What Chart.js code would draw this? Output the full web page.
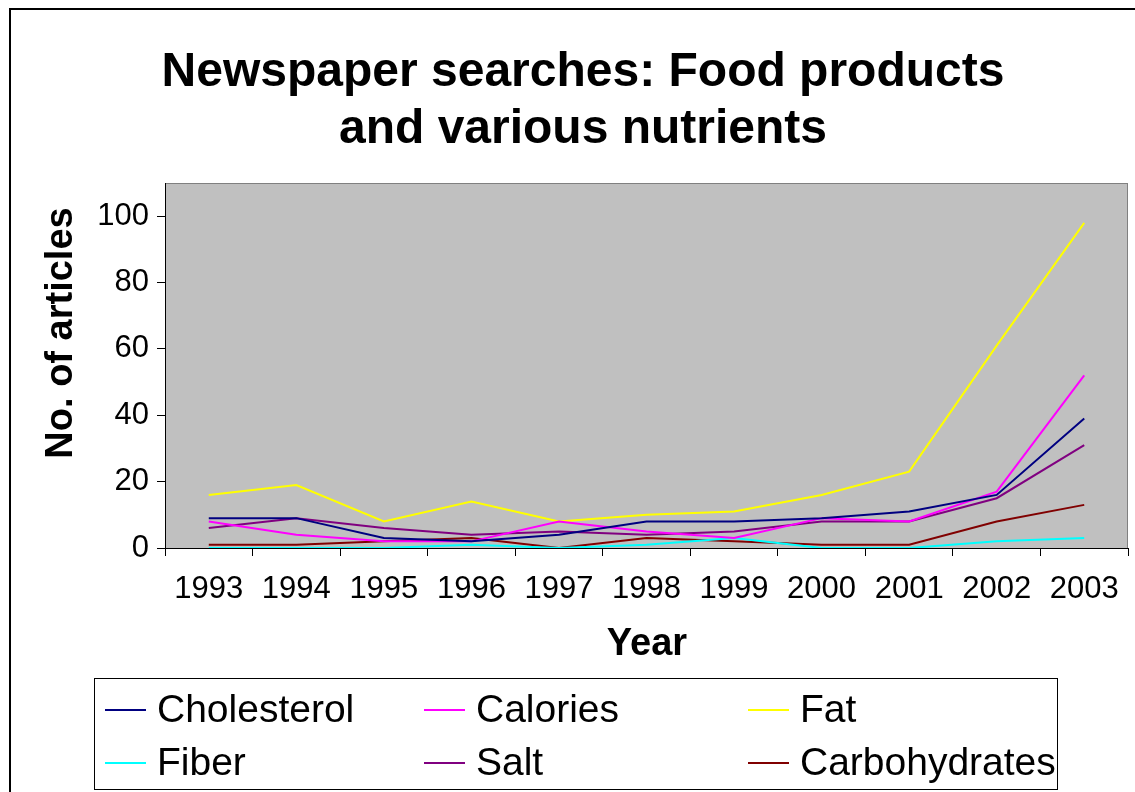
<!DOCTYPE html>
<html>
<head>
<meta charset="utf-8">
<script src="https://cdn.jsdelivr.net/npm/chart.js@4"></script>
<style>
  html, body { margin: 0; padding: 0; background: #fff; }
  canvas { display: block; }
</style>
</head>
<body>
<canvas id="foodChart" width="1135" height="792"></canvas>
<script>
// data
const years = ['1993', '1994', '1995', '1996', '1997', '1998', '1999', '2000', '2001', '2002', '2003'];
const cholesterol = [9, 9, 3, 2, 4, 8, 8, 9, 11, 16, 39];
const calories = [8, 4, 2, 2, 8, 5, 3, 9, 8, 17, 52];
const fat = [16, 19, 8, 14, 8, 10, 11, 16, 23, 61, 98];
const fiber = [0, 0, 0, 1, 0, 1, 3, 0, 0, 2, 3];
const salt = [6, 9, 6, 4, 5, 4, 5, 8, 8, 15, 31];
const carbohydrates = [1, 1, 2, 3, 0, 3, 2, 1, 1, 8, 13];
const yTicks = [0, 20, 40, 60, 80, 100];

const titleLines = ['Newspaper searches: Food products', 'and various nutrients'];
const FONT = '"Liberation Sans", Arial, sans-serif';

function series(label, data, color) {
    return {
        label: label,
        data: data,
        borderColor: color,
        backgroundColor: color,
        borderWidth: 2,
        pointRadius: 0,
        tension: 0,
        fill: false
    };
}

// frame, grey plot area, title, axis titles and legend
const decorations = {
    id: 'decorations',
    beforeDraw(chart) {
        const ctx = chart.ctx;
        const a = chart.chartArea;
        ctx.save();
        ctx.fillStyle = '#fff';
        ctx.fillRect(0, 0, chart.width, chart.height);
        ctx.strokeStyle = '#000';
        ctx.lineWidth = 2;
        ctx.strokeRect(10, 9, chart.width + 20, chart.height + 20);
        ctx.fillStyle = '#c0c0c0';
        ctx.fillRect(a.left, a.top, a.right - a.left, a.bottom - a.top);
        ctx.strokeStyle = '#808080';
        ctx.lineWidth = 1;
        ctx.strokeRect(a.left + 0.5, a.top + 0.5, a.right - a.left - 1, a.bottom - a.top);
        ctx.restore();
    },
    afterDraw(chart) {
        const ctx = chart.ctx;
        ctx.save();
        ctx.fillStyle = '#000';
        ctx.textAlign = 'center';
        ctx.textBaseline = 'alphabetic';

        ctx.font = 'bold 48px ' + FONT;
        ctx.fillText(titleLines[0], 583, 86);
        ctx.fillText(titleLines[1], 583, 143);

        ctx.font = 'bold 38px ' + FONT;
        ctx.textBaseline = 'middle';
        ctx.fillText('Year', 647, 645);

        ctx.save();
        ctx.translate(62, 333);
        ctx.rotate(-Math.PI / 2);
        ctx.fillText('No. of articles', 0, 0);
        ctx.restore();

        // legend box
        ctx.strokeStyle = '#000';
        ctx.lineWidth = 1;
        ctx.strokeRect(94.5, 678.5, 963, 111);

        const colX = [105, 424, 748];
        const rowY = [710, 763];
        ctx.font = '39px ' + FONT;
        ctx.textAlign = 'left';
        chart.data.datasets.forEach((ds, i) => {
            const x = colX[i % 3];
            const y = rowY[Math.floor(i / 3)];
            ctx.strokeStyle = ds.borderColor;
            ctx.lineWidth = 2;
            ctx.beginPath();
            ctx.moveTo(x, y);
            ctx.lineTo(x + 41, y);
            ctx.stroke();
            ctx.fillStyle = '#000';
            ctx.fillText(ds.label, x + 52, y + 1);
        });
        ctx.restore();
    }
};

const ctx = document.getElementById('foodChart').getContext('2d');
new Chart(ctx, {
    type: 'line',
    data: {
        labels: years,
        datasets: [
            series('Cholesterol', cholesterol, '#000080'),
            series('Calories', calories, '#ff00ff'),
            series('Fat', fat, '#ffff00'),
            series('Fiber', fiber, '#00ffff'),
            series('Salt', salt, '#800080'),
            series('Carbohydrates', carbohydrates, '#800000')
        ]
    },
    options: {
        responsive: false,
        animation: false,
        layout: { padding: { left: 10, top: 183, right: 7, bottom: 0 } },
        plugins: {
            legend: { display: false },
            title: { display: false },
            tooltip: { enabled: false }
        },
        scales: {
            x: {
                offset: true,
                grid: { offset: true, drawOnChartArea: false, tickLength: 8, color: '#000' },
                border: { color: '#000', width: 1 },
                ticks: { color: '#000', font: { family: FONT, size: 31 }, padding: 15, maxRotation: 0, autoSkip: false },
                afterFit: s => { s.height = 244; }
            },
            y: {
                min: 0,
                max: 110,
                grid: { drawOnChartArea: false, tickLength: 8, color: '#000' },
                border: { color: '#000', width: 1 },
                ticks: { color: '#000', font: { family: FONT, size: 31 }, padding: 8, stepSize: 20, includeBounds: false },
                afterBuildTicks: s => { s.ticks = yTicks.map(v => ({ value: v })); },
                afterFit: s => { s.width = 155; }
            }
        }
    },
    plugins: [decorations]
});
</script>
</body>
</html>
